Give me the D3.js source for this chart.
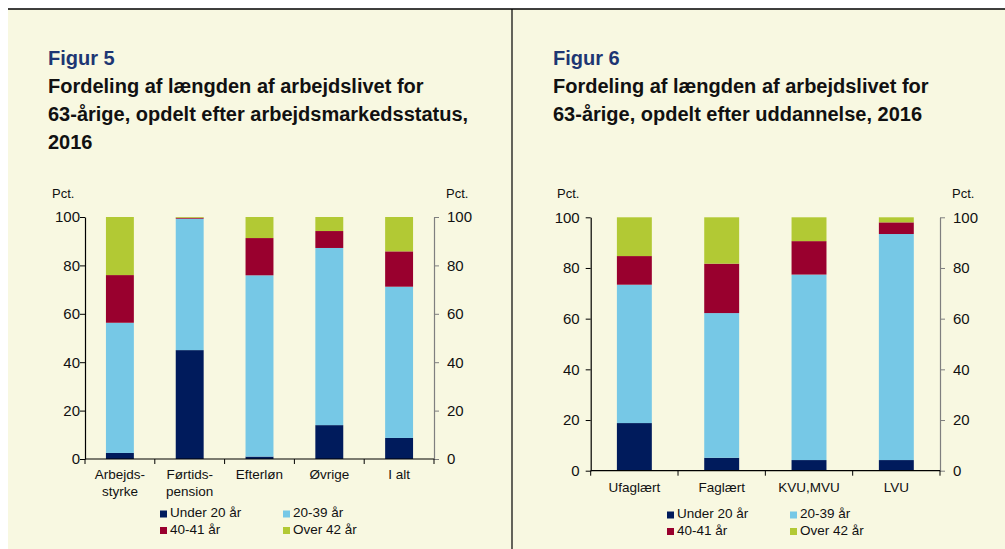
<!DOCTYPE html>
<html>
<head>
<meta charset="utf-8">
<script src="https://cdn.jsdelivr.net/npm/d3@7"></script>
<style>
  html, body { margin: 0; padding: 0; background: #ffffff; }
  svg { display: block; font-family: "Liberation Sans", Arial, sans-serif; }
</style>
</head>
<body>
<svg id="chart" width="1005" height="549"></svg>
<script>
// ---------- Data ----------
const seriesNames = ["Under 20 år", "20-39 år", "40-41 år", "Over 42 år"];
const yTicks = [0, 20, 40, 60, 80, 100];

// Figur 5
const fig5Title = ["Figur 5", "Fordeling af længden af arbejdslivet for", "63-årige, opdelt efter arbejdsmarkedsstatus,", "2016"];
const fig5Categories = ["Arbejds-\nstyrke", "Førtids-\npension", "Efterløn", "Øvrige", "I alt"];
const fig5Under20 = [2.5, 45.0, 1.0, 14.0, 8.7];
const fig5From20to39 = [53.8, 54.3, 74.9, 73.2, 62.5];
const fig5From40to41 = [19.7, 0.4, 15.4, 7.0, 14.6];
const fig5Over42 = [24.0, 0.3, 8.7, 5.8, 14.2];

// Figur 6
const fig6Title = ["Figur 6", "Fordeling af længden af arbejdslivet for", "63-årige, opdelt efter uddannelse, 2016"];
const fig6Categories = ["Ufaglært", "Faglært", "KVU,MVU", "LVU"];
const fig6Under20 = [18.8, 5.1, 4.2, 4.2];
const fig6From20to39 = [54.6, 57.1, 73.2, 89.2];
const fig6From40to41 = [11.3, 19.5, 13.2, 4.6];
const fig6Over42 = [15.3, 18.3, 9.4, 2.0];

// ---------- Style ----------
const colors = ["#001b5c", "#76c8e6", "#99002e", "#b2c934"];
const bg = "#f8f8e1";
const titleBlue = "#1d3673";

const svg = d3.select("#chart");

// background & frame
svg.append("rect").attr("x", 8).attr("y", 9).attr("width", 997).attr("height", 540).attr("fill", bg);
svg.append("line").attr("x1", 8).attr("x2", 1005).attr("y1", 9).attr("y2", 9).attr("stroke", "#000").attr("stroke-width", 1.5);
svg.append("line").attr("x1", 512).attr("x2", 512).attr("y1", 9).attr("y2", 549).attr("stroke", "#000").attr("stroke-width", 1.2);

function buildRows(categories, a, b, c, d) {
  return categories.map((cat, i) => ({ cat, values: [a[i], b[i], c[i], d[i]] }));
}

function drawPanel(cfg) {
  const g = svg.append("g");

  // Title
  cfg.title.forEach((t, i) => {
    g.append("text")
      .attr("x", cfg.titleX).attr("y", 65 + i * 28)
      .attr("font-size", 20).attr("font-weight", "bold")
      .attr("fill", i === 0 ? titleBlue : "#111")
      .text(t);
  });

  const rows = buildRows(cfg.categories, ...cfg.series);
  const x = d3.scaleBand().domain(cfg.categories).range([cfg.x0, cfg.x1])
    .paddingInner(cfg.padInner).paddingOuter(cfg.padInner / 2);
  const y = d3.scaleLinear().domain([0, 100]).range([cfg.y0, cfg.y1]);
  const xIdx = d3.scaleLinear().domain([0, cfg.categories.length]).range([cfg.x0, cfg.x1]);

  // Bars
  const stack = d3.stack().keys([0, 1, 2, 3]).value((d, k) => d.values[k]);
  const stacked = stack(rows);
  stacked.forEach((layer, k) => {
    g.append("g").attr("fill", colors[k])
      .selectAll("rect").data(layer).join("rect")
      .attr("x", d => x(d.data.cat))
      .attr("width", x.bandwidth())
      .attr("y", d => y(d[1]))
      .attr("height", d => Math.max(0, y(d[0]) - y(d[1])));
  });

  // Left axis
  const la = g.append("g").attr("transform", `translate(${cfg.x0},0)`)
    .call(d3.axisLeft(y).tickValues(yTicks).tickSize(5).tickPadding(cfg.leftPad).tickSizeOuter(0));
  la.select(".domain").attr("stroke", "#000").attr("stroke-width", 1.2);
  la.selectAll(".tick line").attr("stroke", "#000");
  la.selectAll("text").attr("font-size", 15).attr("fill", "#111").attr("font-family", "Liberation Sans, Arial, sans-serif");

  // Right axis
  const ra = g.append("g").attr("transform", `translate(${cfg.x1},0)`)
    .call(d3.axisRight(y).tickValues(yTicks).tickSize(5).tickPadding(cfg.rightPad).tickSizeOuter(0));
  ra.select(".domain").attr("stroke", "#7f7f7f").attr("stroke-width", 1.2);
  ra.selectAll(".tick line").attr("stroke", "#7f7f7f");
  ra.selectAll("text").attr("font-size", 15).attr("fill", "#111").attr("font-family", "Liberation Sans, Arial, sans-serif");

  // Bottom axis
  g.append("line").attr("x1", cfg.x0).attr("x2", cfg.x1).attr("y1", y(0)).attr("y2", y(0))
    .attr("stroke", "#000").attr("stroke-width", 1.2);
  g.selectAll(".xtick").data(d3.range(cfg.categories.length + 1)).join("line")
    .attr("x1", i => xIdx(i)).attr("x2", i => xIdx(i))
    .attr("y1", y(0)).attr("y2", y(0) + 5).attr("stroke", "#000");

  // Category labels
  cfg.categories.forEach(cat => {
    const lines = cat.split("\n");
    const t = g.append("text").attr("text-anchor", "middle").attr("font-size", 13.5).attr("fill", "#111");
    lines.forEach((ln, i) => {
      t.append("tspan").attr("x", x(cat) + x.bandwidth() / 2).attr("y", cfg.catY + i * 16.5).text(ln);
    });
  });

  // Pct labels
  g.append("text").attr("x", cfg.pctLeftX).attr("y", 198).attr("font-size", 13).attr("fill", "#111").text("Pct.");
  g.append("text").attr("x", cfg.pctRightX).attr("y", 198).attr("font-size", 13).attr("fill", "#111").text("Pct.");

  // Legend
  seriesNames.forEach((name, i) => {
    const col = i % 2, row = Math.floor(i / 2);
    const lx = cfg.legX[col], ly = cfg.legY + row * 16.5;
    g.append("rect").attr("x", lx).attr("y", ly - 6.5).attr("width", 7).attr("height", 7).attr("fill", colors[i]);
    g.append("text").attr("x", lx + 10).attr("y", ly).attr("font-size", 13.5).attr("fill", "#111").text(name);
  });
}

drawPanel({
  title: fig5Title, titleX: 48,
  categories: fig5Categories,
  series: [fig5Under20, fig5From20to39, fig5From40to41, fig5Over42],
  x0: 85, x1: 434, y0: 459, y1: 217, padInner: 0.6,
  leftPad: 0, rightPad: 8,
  catY: 479, pctLeftX: 52, pctRightX: 446,
  legX: [160, 283], legY: 517
});

drawPanel({
  title: fig6Title, titleX: 553,
  categories: fig6Categories,
  series: [fig6Under20, fig6From20to39, fig6From40to41, fig6Over42],
  x0: 590.7, x1: 940, y0: 470.7, y1: 217.3, padInner: 0.6,
  leftPad: 6, rightPad: 8,
  catY: 492, pctLeftX: 557, pctRightX: 952,
  legX: [667, 790], legY: 518
});
</script>
</body>
</html>
